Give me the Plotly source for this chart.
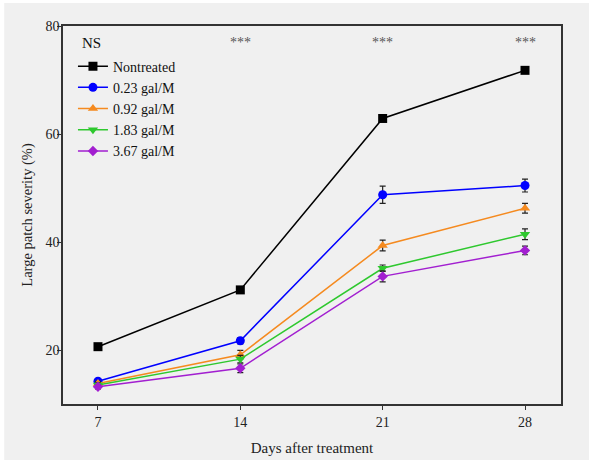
import plotly.graph_objects as go

days = [7, 14, 21, 28]
series_names = ["Nontreated", "0.23 gal/M", "0.92 gal/M", "1.83 gal/M", "3.67 gal/M"]
nontreated = [20.7, 31.2, 62.9, 71.8]
g023 = [14.3, 21.8, 48.8, 50.5]
g092 = [13.9, 19.2, 39.4, 46.3]
g183 = [13.6, 18.4, 35.2, 41.5]
g367 = [13.3, 16.7, 33.7, 38.5]
err_non = [0.3, 0.4, 0.4, 0.4]
err_023 = [0.5, 0.6, 1.6, 1.2]
err_092 = [0.4, 0.8, 1.0, 0.9]
err_183 = [0.4, 0.7, 0.6, 1.0]
err_367 = [0.4, 0.8, 1.0, 0.8]
sig_x = [7, 14, 21, 28]
sig_labels = ["NS", "***", "***", "***"]

colors = ["#000000", "#0000ff", "#f58a1f", "#2ec82e", "#a21fd0"]
symbols = ["square", "circle", "triangle-up", "triangle-down", "diamond"]
sizes = [9, 9, 9, 9, 8]
values = [nontreated, g023, g092, g183, g367]
errs = [err_non, err_023, err_092, err_183, err_367]

fig = go.Figure()
for name, vals, err, c, s, sz in zip(series_names, values, errs, colors, symbols, sizes):
    fig.add_trace(go.Scatter(
        x=days, y=vals, name=name, mode="lines+markers",
        line=dict(color=c, width=1.5),
        marker=dict(symbol=s, size=sz, color=c),
        error_y=dict(type="data", array=err, color="#222222", thickness=1.2, width=3),
    ))

font_family = "Liberation Serif"
for x, lab in zip(sig_x, sig_labels):
    if lab == "NS":
        fig.add_annotation(x=6.7, y=76.9, text=lab, showarrow=False,
                           font=dict(family=font_family, size=15, color="#111111"))
    else:
        fig.add_annotation(x=x, y=77.0, text=lab, showarrow=False,
                           font=dict(family=font_family, size=14, color="#555555"))

axis_common = dict(
    showline=True, linecolor="#333333", linewidth=1.5, mirror=True,
    ticks="outside", ticklen=4, tickcolor="#333333", tickwidth=1,
    showgrid=False, zeroline=False, automargin=False,
    tickfont=dict(family=font_family, size=14, color="#222222"),
)

fig.update_layout(
    width=589, height=460,
    margin=dict(l=63, r=28, t=26, b=56),
    paper_bgcolor="#f0f0f0", plot_bgcolor="#f0f0f0",
    font=dict(family=font_family, color="#222222"),
    xaxis=dict(range=[5.28, 29.77], tickvals=days, ticktext=[str(d) for d in days],
               title=dict(text="Days after treatment", font=dict(family=font_family, size=15), standoff=14),
               **axis_common),
    yaxis=dict(range=[10.1, 80], tickvals=[20, 40, 60, 80], ticklabelstandoff=-5,
               title=dict(text="Large patch severity (%)", font=dict(family=font_family, size=14.5), standoff=9),
               **axis_common),
    legend=dict(x=0.02, y=0.935, xanchor="left", yanchor="top",
                bgcolor="rgba(0,0,0,0)", font=dict(family=font_family, size=14, color="#111111"),
                tracegroupgap=0, itemwidth=30),
    showlegend=True,
)

# white strips at top/left edges of the image
fig.add_shape(type="rect", xref="paper", yref="paper", x0=-0.13, x1=-0.118, y0=-0.2, y1=1.1,
              fillcolor="#ffffff", line=dict(width=0), layer="above")
fig.add_shape(type="rect", xref="paper", yref="paper", x0=-0.13, x1=1.06, y0=1.061, y1=1.08,
              fillcolor="#ffffff", line=dict(width=0), layer="above")

fig.write_html("out.html", config={"displayModeBar": False},
               post_script="document.body.style.margin='0';document.body.style.overflow='hidden';")
